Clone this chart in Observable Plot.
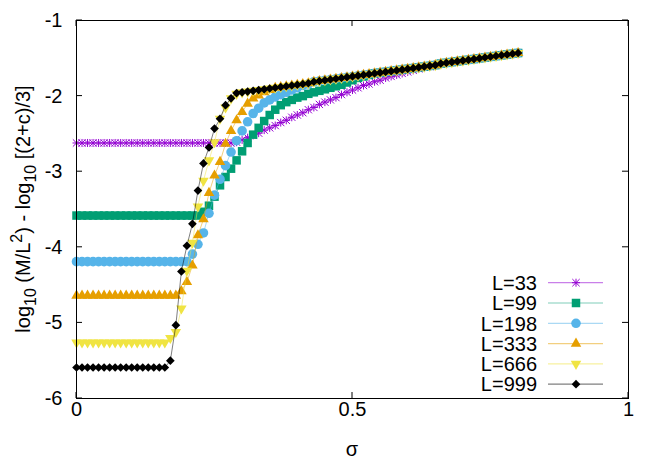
<!DOCTYPE html>
<html><head><meta charset="utf-8">
<script src="https://cdn.jsdelivr.net/npm/d3@7"></script>
<script src="https://cdn.jsdelivr.net/npm/@observablehq/plot@0.6"></script>
<style>
body{margin:0;background:#fff;}
#chart{width:664px;height:465px;}
svg{font-family:"Liberation Sans",Arial,sans-serif;}
</style></head><body><div id="chart"></div>
<script>
const sigma = [0,0.01,0.02,0.03,0.04,0.05,0.06,0.07,0.08,0.09,
0.1,0.11,0.12,0.13,0.14,0.15,0.16,0.17,0.18,0.19,
0.2,0.21,0.22,0.23,0.24,0.25,0.26,0.27,0.28,0.29,
0.3,0.31,0.32,0.33,0.34,0.35,0.36,0.37,0.38,0.39,
0.4,0.41,0.42,0.43,0.44,0.45,0.46,0.47,0.48,0.49,
0.5,0.51,0.52,0.53,0.54,0.55,0.56,0.57,0.58,0.59,
0.6,0.61,0.62,0.63,0.64,0.65,0.66,0.67,0.68,0.69,
0.7,0.71,0.72,0.73,0.74,0.75,0.76,0.77,0.78,0.79,
0.8];

const L33 = [-2.62,-2.62,-2.62,-2.62,-2.62,-2.62,-2.62,-2.62,-2.62,-2.62,
-2.62,-2.62,-2.62,-2.62,-2.62,-2.62,-2.62,-2.62,-2.62,-2.62,
-2.62,-2.62,-2.62,-2.62,-2.62,-2.62,-2.62,-2.62,-2.62,-2.61,
-2.58,-2.55,-2.52,-2.49,-2.45,-2.42,-2.39,-2.35,-2.32,-2.28,
-2.25,-2.22,-2.18,-2.15,-2.11,-2.08,-2.05,-2.02,-1.98,-1.95,
-1.92,-1.89,-1.86,-1.84,-1.81,-1.79,-1.76,-1.74,-1.72,-1.70,
-1.68,-1.66,-1.64,-1.62,-1.61,-1.59,-1.57,-1.56,-1.55,-1.54,
-1.53,-1.52,-1.51,-1.50,-1.49,-1.48,-1.47,-1.46,-1.45,-1.44,
-1.43];

const L99 = [-3.58,-3.58,-3.58,-3.58,-3.58,-3.58,-3.58,-3.58,-3.58,-3.58,
-3.58,-3.58,-3.58,-3.58,-3.58,-3.58,-3.58,-3.58,-3.58,-3.58,
-3.58,-3.58,-3.58,-3.53,-3.45,-3.33,-3.18,-3.07,-2.96,-2.85,
-2.73,-2.62,-2.51,-2.42,-2.33,-2.25,-2.18,-2.12,-2.08,-2.05,
-2.02,-2.00,-1.97,-1.95,-1.93,-1.91,-1.89,-1.87,-1.85,-1.82,
-1.79,-1.76,-1.74,-1.72,-1.70,-1.69,-1.68,-1.67,-1.66,-1.65,
-1.64,-1.63,-1.62,-1.61,-1.60,-1.59,-1.57,-1.56,-1.55,-1.54,
-1.53,-1.52,-1.51,-1.50,-1.49,-1.48,-1.47,-1.46,-1.45,-1.44,
-1.43];

const L198 = [-4.19,-4.19,-4.19,-4.19,-4.19,-4.19,-4.19,-4.19,-4.19,-4.19,
-4.19,-4.19,-4.19,-4.19,-4.19,-4.19,-4.19,-4.19,-4.19,-4.19,
-4.19,-4.09,-3.96,-3.81,-3.55,-3.31,-3.10,-2.92,-2.74,-2.59,
-2.46,-2.34,-2.23,-2.16,-2.09,-2.05,-2.01,-1.98,-1.95,-1.92,
-1.89,-1.86,-1.84,-1.81,-1.80,-1.79,-1.78,-1.77,-1.76,-1.75,
-1.74,-1.73,-1.72,-1.71,-1.70,-1.69,-1.68,-1.67,-1.66,-1.65,
-1.64,-1.63,-1.62,-1.61,-1.60,-1.59,-1.57,-1.56,-1.55,-1.54,
-1.53,-1.52,-1.51,-1.50,-1.49,-1.48,-1.47,-1.46,-1.45,-1.44,
-1.43];

const L333 = [-4.64,-4.64,-4.64,-4.64,-4.64,-4.64,-4.64,-4.64,-4.64,-4.64,
-4.64,-4.64,-4.64,-4.64,-4.64,-4.64,-4.64,-4.64,-4.64,-4.58,
-4.46,-4.24,-3.84,-3.63,-3.28,-3.05,-2.87,-2.63,-2.46,-2.32,
-2.21,-2.10,-2.03,-1.99,-1.95,-1.92,-1.89,-1.88,-1.87,-1.86,
-1.85,-1.84,-1.83,-1.81,-1.80,-1.79,-1.78,-1.77,-1.76,-1.75,
-1.74,-1.73,-1.72,-1.71,-1.70,-1.69,-1.68,-1.67,-1.66,-1.65,
-1.64,-1.63,-1.62,-1.61,-1.60,-1.59,-1.57,-1.56,-1.55,-1.54,
-1.53,-1.52,-1.51,-1.50,-1.49,-1.48,-1.47,-1.46,-1.45,-1.44,
-1.43];

const L666 = [-5.26,-5.26,-5.26,-5.26,-5.26,-5.26,-5.26,-5.26,-5.26,-5.26,
-5.26,-5.26,-5.26,-5.26,-5.26,-5.26,-5.26,-5.20,-5.12,-4.81,
-4.31,-3.94,-3.46,-3.12,-2.85,-2.61,-2.30,-2.15,-2.03,-1.97,
-1.95,-1.94,-1.93,-1.92,-1.91,-1.90,-1.89,-1.88,-1.87,-1.86,
-1.85,-1.84,-1.83,-1.81,-1.80,-1.79,-1.78,-1.77,-1.76,-1.75,
-1.74,-1.73,-1.72,-1.71,-1.70,-1.69,-1.68,-1.67,-1.66,-1.65,
-1.64,-1.63,-1.62,-1.61,-1.60,-1.59,-1.57,-1.56,-1.55,-1.54,
-1.53,-1.52,-1.51,-1.50,-1.49,-1.48,-1.47,-1.46,-1.45,-1.44,
-1.43];

const L999 = [-5.59,-5.59,-5.59,-5.59,-5.59,-5.59,-5.59,-5.59,-5.59,-5.59,
-5.59,-5.59,-5.59,-5.59,-5.59,-5.59,-5.59,-5.50,-5.03,-4.32,
-3.98,-3.69,-3.25,-2.89,-2.68,-2.43,-2.30,-2.12,-2.03,-1.96,
-1.95,-1.94,-1.93,-1.92,-1.91,-1.90,-1.89,-1.88,-1.87,-1.86,
-1.85,-1.84,-1.83,-1.81,-1.80,-1.79,-1.78,-1.77,-1.76,-1.75,
-1.74,-1.73,-1.72,-1.71,-1.70,-1.69,-1.68,-1.67,-1.66,-1.65,
-1.64,-1.63,-1.62,-1.61,-1.60,-1.59,-1.57,-1.56,-1.55,-1.54,
-1.53,-1.52,-1.51,-1.50,-1.49,-1.48,-1.47,-1.46,-1.45,-1.44,
-1.43];

const seriesLabels = ["L=33","L=99","L=198","L=333","L=666","L=999"];
const seriesValues = [L33, L99, L198, L333, L666, L999];
const seriesColors = ["#9400d3","#009e73","#56b4e9","#e69f00","#f0e442","#000000"];
const xTicks = [0, 0.5, 1];
const yTicks = [-6, -5, -4, -3, -2, -1];

(function () {
const styles = [
  {kind:"star"},
  {symbol:"square", r:4.8, rotate:0},
  {symbol:"circle", r:4.8, rotate:0},
  {symbol:"triangle", r:3.9, rotate:0},
  {symbol:"triangle", r:3.9, rotate:180},
  {symbol:"diamond2", r:3.9, rotate:0}
];

const FS = 20;
const FONT = "'Liberation Sans', Arial, sans-serif";
const marks = [];
seriesValues.forEach((vals, k) => {
  const data = sigma.map((s, i) => ({x: s, y: vals[i]}));
  const c = seriesColors[k];
  marks.push(Plot.line(data, {x:"x", y:"y", stroke:c, strokeOpacity:0.5, strokeWidth:1}));
  const st = styles[k];
  if (st.kind === "star") {
    marks.push(Plot.dot(data, {x:"x", y:"y", symbol:"plus", r:2.7, stroke:c, fill:"none", strokeWidth:1}));
    marks.push(Plot.dot(data, {x:"x", y:"y", symbol:"times", r:3.4, stroke:c, fill:"none", strokeWidth:1}));
  } else {
    marks.push(Plot.dot(data, {x:"x", y:"y", symbol:st.symbol, r:st.r, fill:c, stroke:"none", rotate:st.rotate}));
  }
});
marks.push(Plot.frame({stroke:"black", strokeWidth:1}));
marks.push(Plot.axisX(xTicks, {tickSize:0, tickPadding:3, tickFormat:d => String(d), fontSize:FS, label:null, fill:"black"}));
marks.push(Plot.axisY(yTicks, {tickSize:0, tickPadding:14, tickFormat:d => String(d), fontSize:FS, label:null, fill:"black"}));

const plot = Plot.plot({
  width:664, height:465,
  marginLeft:76, marginRight:36, marginTop:20, marginBottom:67,
  style:{fontFamily:FONT, fontSize:FS+"px", background:"#fff"},
  x:{domain:[0,1]},
  y:{domain:[-6,-1]},
  marks
});
document.getElementById("chart").appendChild(plot);

const svg = d3.select(plot);
const xs = plot.scale("x"), ys = plot.scale("y");
const pxL = xs.apply(0), pxR = xs.apply(1), pyB = ys.apply(-6), pyT = ys.apply(-1);
const tg = svg.append("g").attr("stroke","black").attr("stroke-width",1);
const T = 6;
xTicks.forEach(t => {
  const p = xs.apply(t);
  tg.append("line").attr("x1",p).attr("x2",p).attr("y1",pyB).attr("y2",pyB-T);
  tg.append("line").attr("x1",p).attr("x2",p).attr("y1",pyT).attr("y2",pyT+T);
});
yTicks.forEach(t => {
  const p = ys.apply(t);
  tg.append("line").attr("y1",p).attr("y2",p).attr("x1",pxL).attr("x2",pxL+T);
  tg.append("line").attr("y1",p).attr("y2",p).attr("x1",pxR).attr("x2",pxR-T);
});

svg.append("text").attr("x",(pxL+pxR)/2).attr("y",456).attr("text-anchor","middle")
  .attr("font-size",FS).attr("font-family",FONT).attr("fill","black").text("σ");
const SUB = FS*0.8;
const yt = svg.append("text").attr("transform","rotate(-90)")
  .attr("x",-(pyT+pyB)/2).attr("y",30).attr("text-anchor","middle")
  .attr("font-size",FS).attr("font-family",FONT).attr("fill","black");
yt.append("tspan").text("log");
yt.append("tspan").attr("font-size",SUB).attr("dy",6).text("10");
yt.append("tspan").attr("dy",-6).text(" (M/L");
yt.append("tspan").attr("font-size",SUB).attr("dy",-8).text("2");
yt.append("tspan").attr("dy",8).text(") - log");
yt.append("tspan").attr("font-size",SUB).attr("dy",6).text("10");
yt.append("tspan").attr("dy",-6).text(" [(2+c)/3]");

const symMap = {square:d3.symbolSquare, circle:d3.symbolCircle, triangle:d3.symbolTriangle, diamond2:d3.symbolDiamond2, plus:d3.symbolPlus, times:d3.symbolTimes};
const lg = svg.append("g");
seriesLabels.forEach((lab, k) => {
  const y = 282.7 + k * 20.3;
  const c = seriesColors[k];
  lg.append("text").attr("x",537).attr("y",y).attr("dy","0.36em").attr("text-anchor","end")
    .attr("font-size",FS).attr("font-family",FONT).attr("fill","black").text(lab);
  lg.append("line").attr("x1",548).attr("x2",603).attr("y1",y).attr("y2",y)
    .attr("stroke",c).attr("stroke-opacity",0.5).attr("stroke-width",1.2);
  const st = styles[k];
  if (st.kind === "star") {
    [["plus",2.7],["times",3.4]].forEach(([s,r]) => {
      lg.append("path").attr("d", d3.symbol(symMap[s], r*r*Math.PI)())
        .attr("transform",`translate(576,${y})`).attr("stroke",c).attr("fill","none");
    });
  } else {
    lg.append("path").attr("d", d3.symbol(symMap[st.symbol], st.r*st.r*Math.PI)())
      .attr("transform",`translate(576,${y}) rotate(${st.rotate})`).attr("fill",c);
  }
});
})();
</script>
</body></html>
